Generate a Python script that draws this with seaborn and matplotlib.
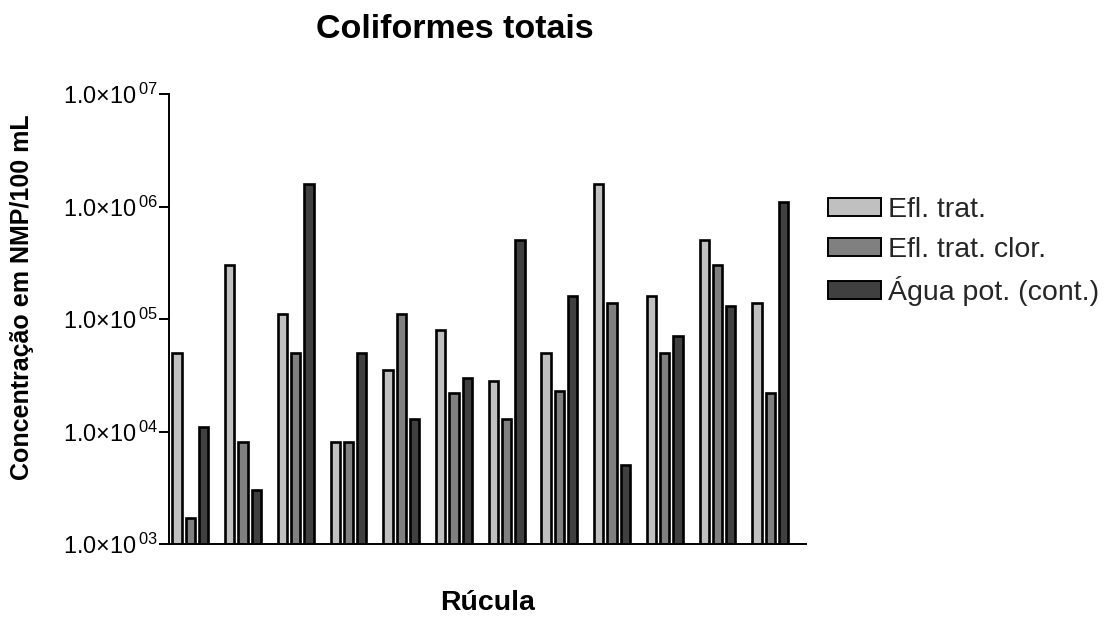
import matplotlib
matplotlib.use("Agg")
import matplotlib.pyplot as plt
import seaborn as sns
import pandas as pd
from matplotlib.ticker import FixedLocator, FixedFormatter, NullLocator
from matplotlib.patches import Patch

sns.set_theme(style="white")
plt.rcParams['font.family'] = ['Liberation Sans', 'DejaVu Sans']
plt.rcParams['mathtext.default'] = 'regular'

amostras = [str(i) for i in range(1, 13)]
series = ["Efl. trat.", "Efl. trat. clor.", "Água pot. (cont.)"]
efl_trat = [5e4, 3e5, 1.1e5, 8e3, 3.5e4, 8e4, 2.8e4, 5e4, 1.6e6, 1.6e5, 5e5, 1.4e5]
efl_trat_clor = [1.7e3, 8e3, 5e4, 8e3, 1.1e5, 2.2e4, 1.3e4, 2.3e4, 1.4e5, 5e4, 3e5, 2.2e4]
agua_pot = [1.1e4, 3e3, 1.6e6, 5e4, 1.3e4, 3e4, 5e5, 1.6e5, 5e3, 7e4, 1.3e5, 1.1e6]
cores = ["#c0c0c0", "#808080", "#404040"]
ytick_vals = [1e3, 1e4, 1e5, 1e6, 1e7]
ytick_labels = ["1.0×10$^{\\,03}$", "1.0×10$^{\\,04}$", "1.0×10$^{\\,05}$",
                "1.0×10$^{\\,06}$", "1.0×10$^{\\,07}$"]

df = pd.DataFrame({
    "amostra": amostras * 3,
    "serie": [series[0]] * 12 + [series[1]] * 12 + [series[2]] * 12,
    "valor": efl_trat + efl_trat_clor + agua_pot,
})

W, H = 1117, 621
fig = plt.figure(figsize=(W / 100, H / 100), dpi=100)
ax = fig.add_axes([169 / W, 1 - 544 / H, (806 - 169) / W, (544 - 94) / H])

sns.barplot(data=df, x="amostra", y="valor", hue="serie", palette=cores,
            width=0.757, gap=0.30, edgecolor="black", linewidth=1.9,
            ax=ax, legend=False, errorbar=None)
ax.set_yscale("log")
ax.set_ylim(1e3, 1e7)
ax.set_xlim(-0.406, 11.68)
ax.yaxis.set_major_locator(FixedLocator(ytick_vals))
ax.yaxis.set_major_formatter(FixedFormatter(ytick_labels))
ax.yaxis.set_minor_locator(NullLocator())
ax.set_xticks([])
ax.tick_params(axis="y", which="major", length=7, width=1.4, color="black",
               labelsize=16.8, labelcolor="black", pad=1, left=True)
for s in ["top", "right"]:
    ax.spines[s].set_visible(False)
for s in ["left", "bottom"]:
    ax.spines[s].set_color("black")
    ax.spines[s].set_linewidth(1.4)
ax.set_xlabel("")
ax.set_ylabel("")

fig.text(455 / W, 1 - 30 / H, "Coliformes totais", ha="center", va="center",
         fontsize=24.5, fontweight="bold", color="black")
fig.text(487.5 / W, 1 - 603 / H, "Rúcula", ha="center", va="center",
         fontsize=20.5, fontweight="bold", color="black")
fig.text(22 / W, 1 - 297 / H, "Concentração em NMP/100 mL", ha="center", va="center",
         rotation=90, fontsize=18, fontweight="bold", color="black")

handles = [Patch(facecolor=c, edgecolor="black", linewidth=1.4) for c in cores]
fig.legend(handles, series, loc="upper left", bbox_to_anchor=(828 / W, 1 - 197 / H),
           frameon=False, fontsize=20.5, handlelength=1.85, handleheight=0.6,
           handletextpad=0.25, labelspacing=0.48, borderaxespad=0, borderpad=0)

fig.savefig("out.png", dpi=100)
